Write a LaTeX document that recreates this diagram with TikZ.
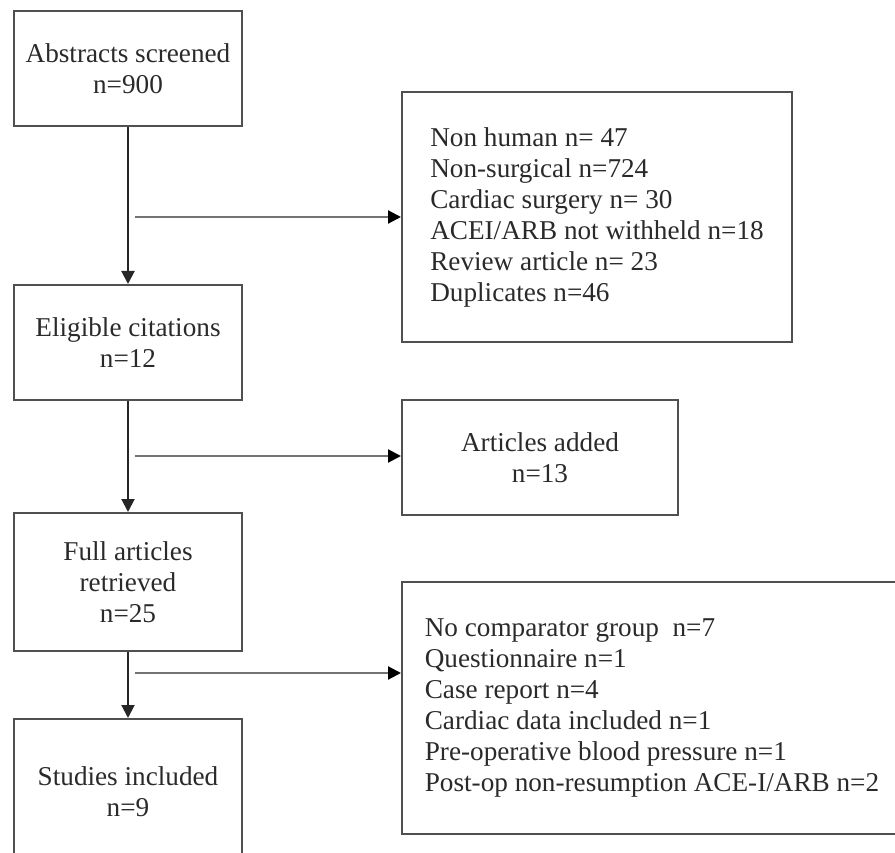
\documentclass[tikz,border=0pt]{standalone}
\usepackage{fontspec}
\setmainfont{Liberation Serif}
\usetikzlibrary{arrows.meta}
\definecolor{edgegray}{HTML}{505050}
\definecolor{txtgray}{HTML}{2A2A2A}
\begin{document}
\begin{tikzpicture}[x=1pt,y=-1pt,
  box/.style={draw=edgegray, line width=2pt, rectangle, inner sep=0pt,
    font=\fontsize{27.2}{31}\selectfont, text=txtgray, align=center},
  listbox/.style={box, align=left},
  flow/.style={draw=black!85, line width=2pt, -{Triangle[length=13pt,width=13pt]}},
  side/.style={draw=black!55, line width=2.2pt, -{Triangle[length=13pt,width=13pt,color=black]}}
]
\useasboundingbox (0,0) rectangle (895,853);

\node[box, minimum width=228pt, minimum height=115pt] (b1) at (128,68.5) {Abstracts screened\\n=900};
\node[box, minimum width=228pt, minimum height=115pt] (b3) at (128,342.5) {Eligible citations\\n=12};
\node[box, minimum width=228pt, minimum height=138pt] (b5) at (128,582) {Full articles\\retrieved\\n=25};
\node[box, minimum width=228pt, minimum height=146pt] (b7) at (128,792) {Studies included\\n=9};

\node[listbox, minimum width=390pt, minimum height=250pt] (b2) at (597,217) {Non human n= 47\\Non-surgical n=724\\Cardiac surgery n= 30\\ACEI/ARB not withheld n=18\\Review article n= 23\\Duplicates n=46};
\node[box, minimum width=276pt, minimum height=115pt] (b4) at (540,457.5) {Articles added\\n=13};
\node[listbox, minimum width=500pt, minimum height=252pt] (b6) at (652,708) {No comparator group\ \ n=7\\Questionnaire n=1\\Case report n=4\\Cardiac data included n=1\\Pre-operative blood pressure n=1\\Post-op non-resumption ACE-I/ARB n=2};

\draw[flow] (b1) -- (b3);
\draw[flow] (b3) -- (b5);
\draw[flow] (b5) -- (b7);

\coordinate (h1) at (135,217);
\coordinate (h2) at (135,456);
\coordinate (h3) at (135,673);
\draw[side] (h1) -- (h1 -| b2.west);
\draw[side] (h2) -- (h2 -| b4.west);
\draw[side] (h3) -- (h3 -| b6.west);
\end{tikzpicture}
\end{document}
